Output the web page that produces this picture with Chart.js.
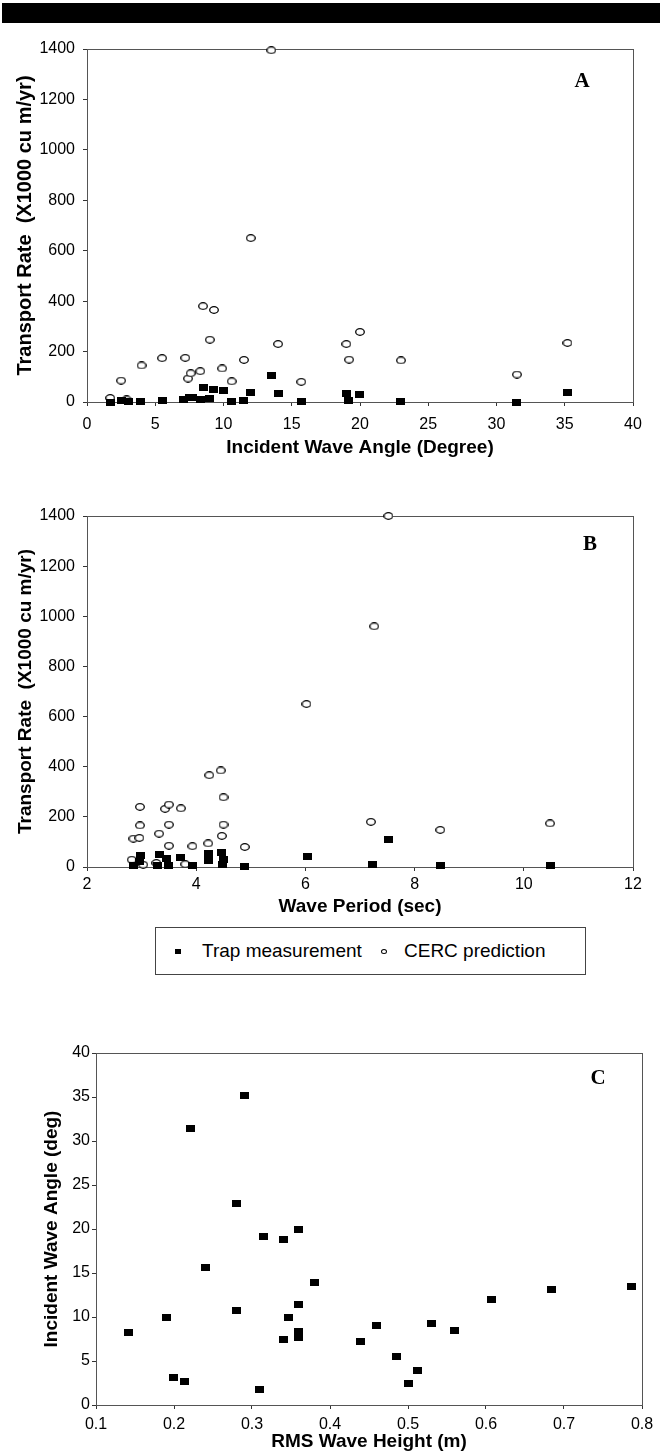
<!DOCTYPE html>
<html>
<head>
<meta charset="utf-8">
<script src="https://cdn.jsdelivr.net/npm/chart.js@4.4.1/dist/chart.umd.min.js"></script>
<style>
  body { margin: 0; background: #fff; width: 662px; height: 1453px; position: relative; overflow: hidden;
         font-family: "Liberation Sans", Arial, sans-serif; }
  .topbar { position: absolute; left: 2px; top: 3px; width: 658px; height: 20px; background: #000; }
  .panel { position: absolute; left: 0; width: 662px; }
  .legend { position: absolute; left: 155px; top: 927px; width: 429px; height: 46px; border: 1px solid #444;
            font-size: 19px; color: #000; }
  .legend span { position: absolute; line-height: 22px; top: 12px; white-space: nowrap; }
  .legend i { position: absolute; display: block; }
  .sq { left: 19px; top: 21px; width: 6px; height: 5px; background: #000; }
  .ring { left: 225px; top: 21px; width: 4px; height: 3px; border: 1px solid #000; border-radius: 50%; }
</style>
</head>
<body>
<div class="topbar"></div>
<div class="panel" style="top:30px;height:440px"><canvas id="chartA" width="662" height="440"></canvas></div>
<div class="panel" style="top:490px;height:430px"><canvas id="chartB" width="662" height="430"></canvas></div>
<div class="legend">
  <i class="sq"></i><span id="lgTrap" style="left:46px"></span>
  <i class="ring"></i><span id="lgCerc" style="left:248px"></span>
</div>
<div class="panel" style="top:1025px;height:428px"><canvas id="chartC" width="662" height="428"></canvas></div>

<script>
const seriesNames = ['Trap measurement', 'CERC prediction'];

// Panel A: transport rate vs incident wave angle
const aTrapX = [1.7, 2.5, 3.05, 3.95, 5.5, 7.1, 7.5, 7.7, 8.35, 8.5, 8.95, 9.3, 10.0, 10.6, 11.45, 11.95, 13.5, 14.0, 15.7, 19.0, 19.15, 19.95, 23.0, 31.5, 35.2];
const aTrapY = [0, 5, 3, 3, 5, 9, 18, 16, 9, 56, 12, 49, 46, 3, 5, 37, 106, 35, 3, 33, 5, 29, 2, 0, 37];
const aCercX = [1.7, 2.9, 2.5, 4.0, 5.5, 7.2, 7.4, 7.6, 8.3, 8.5, 9.0, 9.3, 9.9, 10.6, 11.5, 12.0, 13.5, 14.0, 15.7, 19.0, 19.2, 20.0, 23.0, 31.5, 35.2];
const aCercY = [16, 10, 85, 145, 174, 175, 93, 114, 122, 380, 247, 365, 133, 82, 167, 650, 1395, 230, 80, 230, 168, 278, 165, 109, 234];
const aXTicks = [0, 5, 10, 15, 20, 25, 30, 35, 40];
const rateTicks = [0, 200, 400, 600, 800, 1000, 1200, 1400];

// Panel B: transport rate vs wave period
const bTrapX = [2.85, 2.96, 2.98, 3.29, 3.32, 3.46, 3.5, 3.72, 3.94, 4.22, 4.23, 4.46, 4.48, 4.5, 4.89, 6.03, 7.22, 7.52, 8.47, 10.48];
const bTrapY = [5, 20, 44, 4, 49, 33, 7, 37, 5, 24, 53, 57, 11, 29, 3, 40, 10, 110, 5, 5];
const bCercX = [2.82, 2.85, 2.96, 2.97, 2.97, 3.03, 3.27, 3.32, 3.43, 3.5, 3.5, 3.5, 3.72, 3.8, 3.93, 4.22, 4.24, 4.45, 4.47, 4.5, 4.5, 4.89, 6.02, 7.2, 7.26, 7.52, 8.47, 10.48];
const bCercY = [29, 113, 116, 166, 240, 9, 16, 133, 232, 249, 169, 85, 234, 11, 83, 94, 366, 385, 124, 278, 169, 80, 650, 180, 960, 1400, 148, 174];
const bXTicks = [2, 4, 6, 8, 10, 12];

// Panel C: incident wave angle vs RMS wave height
const cHeight = [0.291, 0.221, 0.28, 0.36, 0.315, 0.34, 0.24, 0.38, 0.36, 0.28, 0.19, 0.347, 0.142, 0.36, 0.36, 0.34, 0.199, 0.213, 0.31,
                 0.787, 0.684, 0.607, 0.46, 0.53, 0.56, 0.439, 0.485, 0.512, 0.5];
const cAngle = [35.2, 31.4, 22.9, 19.9, 19.1, 18.8, 15.6, 13.9, 11.45, 10.7, 10.0, 9.9, 8.2, 8.3, 7.7, 7.5, 3.07, 2.7, 1.74,
                13.46, 13.08, 12.0, 9.0, 9.28, 8.5, 7.19, 5.48, 3.95, 2.47];
const cXTicks = [0.1, 0.2, 0.3, 0.4, 0.5, 0.6, 0.7, 0.8];
const cYTicks = [0, 5, 10, 15, 20, 25, 30, 35, 40];

Chart.defaults.font.family = '"Liberation Sans", Arial, sans-serif';
Chart.defaults.color = '#000';

function squareMark(w, h) {
  const c = document.createElement('canvas');
  c.width = w; c.height = h;
  const g = c.getContext('2d');
  g.fillStyle = '#000';
  g.fillRect(0, 0, w, h);
  return c;
}

function ringMark(w, h) {
  const c = document.createElement('canvas');
  c.width = w; c.height = h;
  const g = c.getContext('2d');
  g.beginPath();
  g.ellipse(w / 2, h / 2, w / 2 - 0.7, h / 2 - 0.7, 0, 0, 2 * Math.PI);
  g.fillStyle = '#fff';
  g.fill();
  g.strokeStyle = '#000';
  g.lineWidth = 1.3;
  g.stroke();
  return c;
}

const squareImg = squareMark(9, 7);
const ringImg = ringMark(10, 8);

function points(xs, ys) {
  return xs.map((x, i) => ({ x: x, y: ys[i] }));
}

// frame round the plot area and the A/B/C letter
const framePlugin = {
  id: 'frame',
  beforeDatasetsDraw(chart) {
    const { ctx, chartArea } = chart;
    ctx.save();
    ctx.strokeStyle = '#555';
    ctx.lineWidth = 1;
    ctx.strokeRect(Math.round(chartArea.left) + 0.5, Math.round(chartArea.top) + 0.5,
      Math.round(chartArea.width), Math.round(chartArea.height));
    ctx.restore();
  },
  afterDraw(chart, args, opts) {
    const { ctx, chartArea } = chart;
    ctx.save();
    ctx.font = 'bold 21px "Liberation Serif", "Times New Roman", serif';
    ctx.fillStyle = '#000';
    ctx.textAlign = 'center';
    ctx.textBaseline = 'middle';
    ctx.fillText(opts.text, chartArea.right - opts.dx, chartArea.top + opts.dy);
    ctx.restore();
  }
};

function makeScatter(id, cfg) {
  const datasets = cfg.sets.map(s => ({
    label: s.label,
    data: s.data,
    pointStyle: s.mark,
    pointRadius: 4,
    pointHoverRadius: 4,
    showLine: false,
    clip: false
  }));
  return new Chart(document.getElementById(id), {
    type: 'scatter',
    data: { datasets: datasets },
    plugins: [framePlugin],
    options: {
      responsive: false,
      animation: false,
      events: [],
      layout: { padding: { top: cfg.top, right: cfg.right, left: 0, bottom: 0 } },
      plugins: {
        legend: { display: false },
        tooltip: { enabled: false },
        frame: cfg.letter
      },
      scales: {
        x: {
          type: 'linear',
          min: cfg.xTicks[0],
          max: cfg.xTicks[cfg.xTicks.length - 1],
          afterBuildTicks: s => { s.ticks = cfg.xTicks.map(v => ({ value: v })); },
          afterFit: s => { s.height = cfg.xHeight; },
          grid: { drawOnChartArea: false, tickLength: 4, color: '#333' },
          border: { color: '#222' },
          ticks: { font: { size: 16 }, padding: cfg.xTickPad, maxRotation: 0, callback: cfg.xFmt || (v => String(v)) },
          title: { display: true, text: cfg.xTitle, font: { size: 19, weight: 'bold' }, padding: { top: 0, bottom: cfg.xTitlePad } }
        },
        y: {
          type: 'linear',
          min: cfg.yTicks[0],
          max: cfg.yTicks[cfg.yTicks.length - 1],
          afterBuildTicks: s => { s.ticks = cfg.yTicks.map(v => ({ value: v })); },
          afterFit: s => { s.width = cfg.yWidth; },
          grid: { drawOnChartArea: false, tickLength: 4, color: '#333' },
          border: { color: '#222' },
          ticks: { font: { size: 16 }, padding: cfg.yTickPad, callback: v => String(v) },
          title: { display: true, text: cfg.yTitle, font: { size: cfg.yTitleSize || 19, weight: 'bold' }, padding: { top: cfg.yTitlePad, bottom: 0 } }
        }
      }
    }
  });
}

makeScatter('chartA', {
  sets: [
    { label: seriesNames[0], data: points(aTrapX, aTrapY), mark: squareImg },
    { label: seriesNames[1], data: points(aCercX, aCercY), mark: ringImg }
  ],
  xTicks: aXTicks, yTicks: rateTicks,
  top: 19, right: 29, yWidth: 87, xHeight: 68,
  xTickPad: 9, yTickPad: 8, xTitlePad: 11, yTitlePad: 13, yTitleSize: 20,
  xTitle: 'Incident Wave Angle (Degree)',
  yTitle: 'Transport Rate  (X1000 cu m/yr)',
  letter: { text: 'A', dx: 51, dy: 33 }
});

makeScatter('chartB', {
  sets: [
    { label: seriesNames[0], data: points(bTrapX, bTrapY), mark: squareImg },
    { label: seriesNames[1], data: points(bCercX, bCercY), mark: ringImg }
  ],
  xTicks: bXTicks, yTicks: rateTicks,
  top: 26, right: 29, yWidth: 87, xHeight: 53,
  xTickPad: 4, yTickPad: 8, xTitlePad: 2, yTitlePad: 14,
  xTitle: 'Wave Period (sec)',
  yTitle: 'Transport Rate  (X1000 cu m/yr)',
  letter: { text: 'B', dx: 43, dy: 29 }
});

makeScatter('chartC', {
  sets: [
    { label: seriesNames[0], data: points(cHeight, cAngle), mark: squareImg }
  ],
  xTicks: cXTicks, yTicks: cYTicks,
  top: 28, right: 20, yWidth: 96, xHeight: 48,
  xTickPad: 6, yTickPad: 2, xTitlePad: 0, yTitlePad: 40,
  xFmt: v => v.toFixed(1),
  xTitle: 'RMS Wave Height (m)',
  yTitle: 'Incident Wave Angle (deg)',
  letter: { text: 'C', dx: 44, dy: 26 }
});

document.getElementById('lgTrap').textContent = seriesNames[0];
document.getElementById('lgCerc').textContent = seriesNames[1];
</script>
</body>
</html>
